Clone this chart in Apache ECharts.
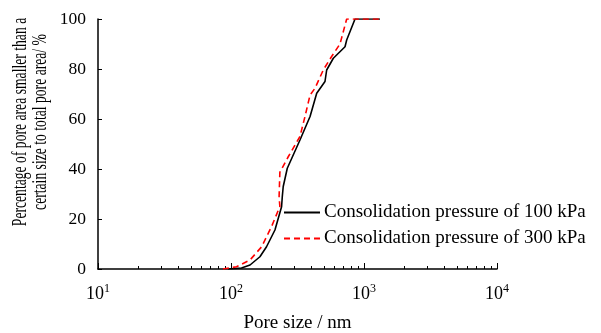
<!DOCTYPE html>
<html>
<head>
<meta charset="utf-8">
<style>
  html, body { margin: 0; padding: 0; background: #fff; }
  #chart { width: 601px; height: 333px; }
</style>
<script src="https://cdn.jsdelivr.net/npm/echarts@6/dist/echarts.min.js"></script>
</head>
<body>
<div id="chart"></div>
<script>
// pore size (nm) and cumulative percentage
const size100 = [95, 120, 139, 165, 185, 214, 240, 243, 247, 265, 330, 393, 441, 509, 524, 588, 720, 741, 856, 1318];
const pct100  = [0, 0.4, 1.6, 4.9, 8.9, 15.6, 24.9, 28.9, 33, 40.3, 51.6, 61, 70.3, 75, 79.6, 84.3, 88.9, 91.6, 100, 100];
const size300 = [87, 110, 139, 170, 202, 233, 230, 233, 270, 330, 360, 393, 428, 494, 571, 660, 741, 1318];
const pct300  = [0, 0.9, 3.6, 8.9, 17, 25, 29, 38.7, 45, 53, 61, 69.6, 72.3, 79.6, 85, 90, 100, 100];
const seriesNames = ['Consolidation pressure of 100 kPa', 'Consolidation pressure of 300 kPa'];
const yTicks = [0, 20, 40, 60, 80, 100];
const minorX = [20, 30, 40, 50, 60, 70, 80, 90, 200, 300, 400, 500, 600, 700, 800, 900,
                2000, 3000, 4000, 5000, 6000, 7000, 8000, 9000];

const font = 'Liberation Serif';
const pairs = (xs, ys) => xs.map((x, i) => [x, ys[i]]);

const chart = echarts.init(document.getElementById('chart'));

const option = {
  animation: false,
  textStyle: { fontFamily: font },
  grid: { left: 98, right: 104, top: 19, bottom: 64, outerBoundsMode: 'none' },
  legend: {
    orient: 'vertical',
    left: 283,
    top: 203,
    padding: 0,
    itemWidth: 36,
    itemHeight: 12,
    itemGap: 7,
    itemStyle: { opacity: 0 },
    textStyle: { fontFamily: font, fontSize: 19, color: '#000', padding: [0, 0, 0, -1] },
    data: seriesNames
  },
  xAxis: [
    {
      type: 'log',
      logBase: 10,
      min: 10,
      max: 10000,
      name: 'Pore size / nm',
      nameLocation: 'middle',
      nameGap: 45,
      nameTextStyle: { fontFamily: font, fontSize: 19, color: '#000' },
      axisLine: { lineStyle: { color: '#000', width: 1.5 } },
      axisTick: { inside: true, length: 6, lineStyle: { color: '#000' } },
      splitLine: { show: false },
      axisLabel: {
        margin: 14,
        formatter: v => '10{s|' + Math.round(Math.log10(v)) + '}',
        fontFamily: font,
        fontSize: 18,
        color: '#000',
        rich: {
          s: { fontFamily: font, fontSize: 12, color: '#000', padding: [0, 0, 10, 0] }
        }
      }
    },
    {
      type: 'log',
      logBase: 10,
      min: 10,
      max: 10000,
      position: 'bottom',
      axisLine: { show: false },
      axisLabel: { show: false },
      splitLine: { show: false },
      axisTick: { inside: true, length: 3, customValues: minorX, lineStyle: { color: '#000' } }
    }
  ],
  yAxis: {
    type: 'value',
    min: 0,
    max: 100,
    interval: 20,
    axisLine: { show: true, lineStyle: { color: '#000', width: 1.5 } },
    axisTick: { show: true, inside: true, length: 4, lineStyle: { color: '#000' } },
    splitLine: { show: false },
    axisLabel: {
      margin: 12,
      fontFamily: font,
      fontSize: 17.5,
      color: '#000',
      customValues: yTicks
    }
  },
  graphic: [
    {
      type: 'text',
      x: 30,
      y: 122,
      rotation: Math.PI / 2,
      scaleX: 0.65,
      style: {
        text: 'Percentage of pore area smaller than a\ncertain size to total pore area/ %',
        fontFamily: font,
        fontSize: 21,
        lineHeight: 20,
        fill: '#000',
        align: 'center',
        verticalAlign: 'middle'
      }
    }
  ],
  series: [
    {
      name: seriesNames[0],
      type: 'line',
      showSymbol: false,
      symbol: 'none',
      data: pairs(size100, pct100),
      lineStyle: { color: '#000', width: 1.6 },
      itemStyle: { color: '#000' }
    },
    {
      name: seriesNames[1],
      type: 'line',
      showSymbol: false,
      symbol: 'none',
      data: pairs(size300, pct300),
      lineStyle: { color: '#ff0000', width: 1.6, type: [6, 4] },
      itemStyle: { color: '#ff0000' }
    }
  ]
};

chart.setOption(option);
</script>
</body>
</html>
